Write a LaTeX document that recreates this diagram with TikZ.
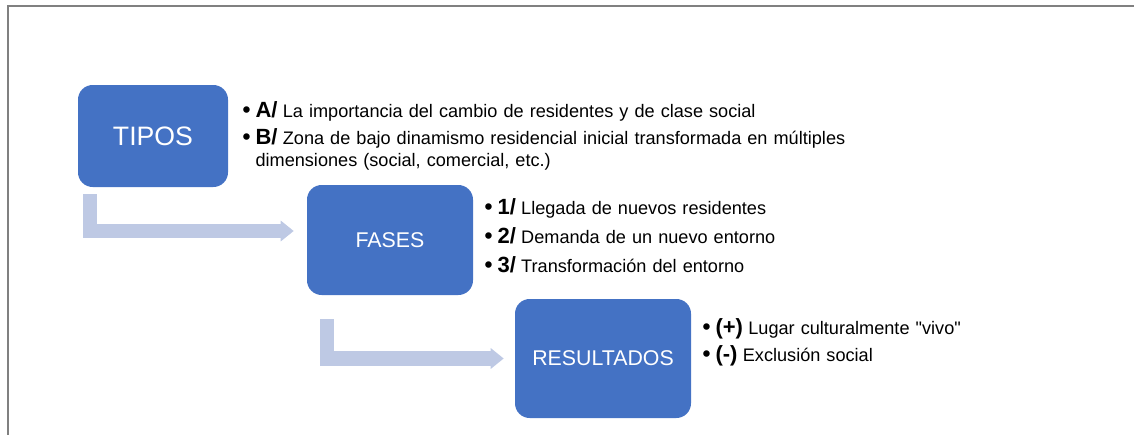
\documentclass[tikz,border=0pt]{standalone}
\usepackage{fontspec}
\setmainfont{Liberation Sans}
\usepackage{xcolor}
\definecolor{azul}{RGB}{68,114,196}
\definecolor{azulclaro}{RGB}{190,201,228}
\definecolor{marco}{RGB}{128,128,128}
\usetikzlibrary{positioning,arrows.meta}
\newlength{\sepelem}
\setlength{\sepelem}{4.25pt}
\tikzset{
    caja/.style={
    rectangle,rounded corners=11pt,fill=azul,text=white,inner sep=2pt
    },
    lista/.style={
    rectangle,anchor=north west,inner sep=0pt,align=left,text width=480pt,
    font=\fontsize{13.6}{16}\selectfont
    },
  flecha/.style={draw=azulclaro, line width=10.75pt, -{Triangle[length=9.75pt,width=15pt]}},
}
\newcommand{\elem}[2]{\hangindent=9.75pt\hangafter=1\noindent\makebox[9.75pt][l]{\fontsize{17}{16}\selectfont\bfseries\textbullet}{\fontsize{16.5}{16}\selectfont\bfseries #1}\hspace{4pt}#2\par\vskip\sepelem}

\begin{document}
\begin{tikzpicture}[x=0.75pt, y=-0.75pt]
   \useasboundingbox (0,0) rectangle (1134,435);
   \clip (0,0) rectangle (1134,435);
   \draw[marco, line width=1.5pt] (7.5,445) |- (1145,6);

   \node[caja, minimum width=112.5pt, minimum height=76.5pt, font=\fontsize{20}{24}\selectfont] (tipos) at (153,136) {TIPOS};
   \node[caja, minimum width=124.5pt, minimum height=82.5pt, font=\fontsize{16}{20}\selectfont] (fases) at (390,240) {FASES};
   \node[caja, minimum width=132pt, minimum height=89.25pt, font=\fontsize{16}{20}\selectfont] (resultados) at (603,358.5) {RESULTADOS};

   \node[lista] (ltipos) at ([shift={(14,17)}]tipos.north east) {%
     \elem{A/}{La importancia del cambio de residentes y de clase social}
     \elem{B/}{Zona de bajo dinamismo residencial inicial transformada en múltiples\break dimensiones (social, comercial, etc.)}};
   \node[lista] (lfases) at ([shift={(11,13.5)}]fases.north east) {%
     \setlength{\sepelem}{5.75pt}%
     \elem{1/}{Llegada de nuevos residentes}
     \elem{2/}{Demanda de un nuevo entorno}
     \elem{3/}{Transformación del entorno}};
   \node[lista] (lresultados) at ([shift={(11,19.5)}]resultados.north east) {%
     \elem{(+)}{Lugar culturalmente \textquotedbl vivo\textquotedbl}
     \elem{(-)}{Exclusión social}};

   \draw[flecha] ([shift={(12.5,7)}]tipos.south west) |- ([shift={(-13,-9)}]fases.west);
   \draw[flecha] ([shift={(20,24)}]fases.south west) |- ([shift={(-11,0)}]resultados.west);
\end{tikzpicture}
\end{document}
